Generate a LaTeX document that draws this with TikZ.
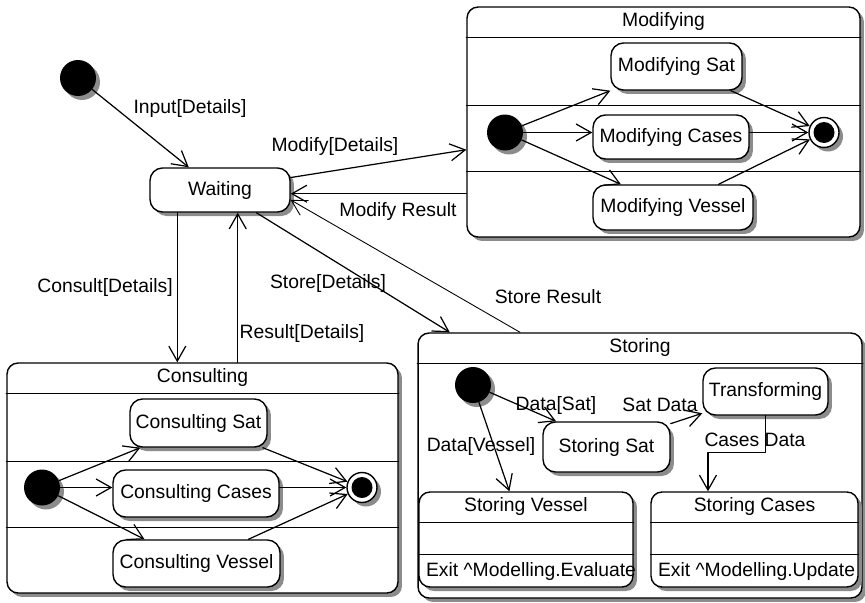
\documentclass[tikz,border=0pt]{standalone}
\usepackage{fontspec}
\setmainfont{Liberation Sans}
\usetikzlibrary{arrows.meta}

\begin{document}
\begin{tikzpicture}[x=0.02cm,y=-0.02cm,line join=round,line cap=round,
	>={Straight Barb[length=0.3cm,width=0.34cm]},font=\fontsize{11}{13}\selectfont]
	\tikzset{
		shadowed/.style={preaction={fill=black!45,transform canvas={xshift=0.08cm,yshift=-0.08cm}}},
		sstate/.style={draw,line width=0.8pt,fill=white,rounded corners=0.25cm,inner sep=2pt,shadowed},
		cstate/.style={draw,line width=0.8pt,fill=white,rounded corners=0.22cm,shadowed},
		startdot/.style={circle,fill=black,minimum size=0.72cm,inner sep=0pt,shadowed},
		enddot/.style={circle,draw,line width=0.8pt,fill=white,minimum size=0.6cm,inner sep=0pt,shadowed,
			path picture={\fill[black] (path picture bounding box.center) circle (0.21cm);}},
		flow/.style={->,line width=0.7pt},
		tag style/.style={inner sep=1pt}
	}
	\useasboundingbox (0,0) rectangle (865,602);
	% top level
	\node[startdot] (init) at (78,78) {};
	\node[sstate,minimum width=2.8cm,minimum height=0.88cm] (waiting) at (220,190) {Waiting};
	\node[cstate,minimum width=7.86cm,minimum height=4.6cm] (modify) at (663.5,122) {};
	\node[cstate,minimum width=7.82cm,minimum height=4.6cm] (consult) at (202.5,478) {};
	\node[cstate,minimum width=8.88cm,minimum height=5.3cm] (store) at (640,465.5) {};
	\foreach \c/\t in {modify/Modifying,consult/Consulting,store/Storing}{
		\draw[line width=0.8pt] ([yshift=-0.62cm]\c.north west) -- ([yshift=-0.62cm]\c.north east);
		\node (\c-title) at ([yshift=-0.31cm]\c.north) {\t};
	}
	\foreach \c in {modify,consult}
	\foreach \d in {1.98cm,3.31cm}
	\draw[line width=0.6pt] ([yshift=-\d]\c.north west) -- ([yshift=-\d]\c.north east);
	% Modifying
	\node[startdot] (mInit) at (505,132.5) {};
	\node[sstate,minimum width=2.62cm,minimum height=0.94cm] (mSat) at (676.5,66.5) {Modifying Sat};
	\node[sstate,minimum width=3.12cm,minimum height=0.88cm] (mCases) at (671,137) {Modifying Cases};
	\node[sstate,minimum width=3.2cm,minimum height=0.9cm] (mVessel) at (673,207.5) {Modifying Vessel};
	\node[enddot] (mFinal) at (824,132.5) {};
	\draw[flow] (mInit) -- (mSat.south west);
	\draw[flow] (mInit) -- (mInit -| mCases.west);
	\draw[flow] (mInit) -- (mVessel.156);
	\draw[flow] (mSat.-24) -- (mFinal);
	\draw[flow] (mFinal -| mCases.east) -- (mFinal);
	\draw[flow] (mVessel.27) -- (mFinal);
	% Consulting
	\node[startdot] (cInit) at (42,487.5) {};
	\node[sstate,minimum width=2.74cm,minimum height=0.96cm] (cSat) at (198.5,423) {Consulting Sat};
	\node[sstate,minimum width=3.32cm,minimum height=0.94cm] (cCases) at (196,493.5) {Consulting Cases};
	\node[sstate,minimum width=3.34cm,minimum height=0.94cm] (cVessel) at (196.5,563.5) {Consulting Vessel};
	\node[enddot] (cFinal) at (362,487.5) {};
	\draw[flow] (cInit) -- (cSat.203);
	\draw[flow] (cInit) -- (cInit -| cCases.west);
	\draw[flow] (cInit) -- (cVessel.155);
	\draw[flow] (cSat.-21) -- (cFinal);
	\draw[flow] (cFinal -| cCases.east) -- (cFinal);
	\draw[flow] (cVessel.25) -- (cFinal);
	% Storing
	\node[startdot] (sInit) at (473,385) {};
	\node[sstate,minimum width=2.54cm,minimum height=1cm] (sSat) at (606.5,447) {Storing Sat};
	\node[sstate,minimum width=2.5cm,minimum height=0.94cm] (transf) at (765.5,391.5) {Transforming};
	\node[cstate,minimum width=4.28cm,minimum height=1.9cm] (sVessel) at (526,539.5) {};
	\node[cstate,minimum width=4.14cm,minimum height=1.9cm] (sCases) at (754.5,539.5) {};
	\foreach \c/\t/\e in {sVessel/Storing Vessel/Evaluate,sCases/Storing Cases/Update}{
		\draw[line width=0.6pt] ([yshift=-0.62cm]\c.north west) -- ([yshift=-0.62cm]\c.north east);
		\draw[line width=0.6pt] ([yshift=-1.26cm]\c.north west) -- ([yshift=-1.26cm]\c.north east);
		\node (\c-title) at ([yshift=-0.31cm]\c.north) {\t};
		\node[anchor=west] (\c-exit) at ([xshift=0.03cm,yshift=0.32cm]\c.south west) {Exit \textasciicircum Modelling.\e};
	}
	\draw[flow] (sInit) -- (sSat.153);
	\draw[flow] (sInit) -- (sVessel.109);
	\draw[flow] (sSat.20) -- (transf.199);
	\draw[flow] (transf.south) -- ++(0,37) -| (sCases.134);
	% top level transitions
	\draw[flow] (init) -- (waiting.144);
	\draw[flow] (waiting.10) -- (modify.188);
	\draw[flow] (modify.west |- waiting.-3) -- (waiting.-3);
	\draw[flow] (waiting.-32) -- (store.145);
	\draw[flow,line width=0.5pt] (store.132) -- (waiting.-8);
	\draw[flow] (waiting.-152) -- (waiting.-152 |- consult.north);
	\draw[flow] (waiting.-52 |- consult.north) -- (waiting.-52);
	% transition labels
	\node[tag style] (tInput) at (190,108) {Input[Details]};
	\node[tag style] (tModify) at (335,146) {Modify[Details]};
	\node[tag style] (tModRes) at (398,211) {Modify Result};
	\node[tag style] (tConsult) at (105,287) {Consult[Details]};
	\node[tag style] (tStore) at (328,283) {Store[Details]};
	\node[tag style] (tResult) at (302,333) {Result[Details]};
	\node[tag style] (tStoRes) at (548,297) {Store Result};
	\node[tag style] (tDataSat) at (556,405) {Data[Sat]};
	\node[tag style] (tSatData) at (660,405) {Sat Data};
	\node[tag style] (tDataVes) at (481,446) {Data[Vessel]};
	\node[tag style] (tCasData) at (755,440) {Cases Data};
\end{tikzpicture}
\end{document}
